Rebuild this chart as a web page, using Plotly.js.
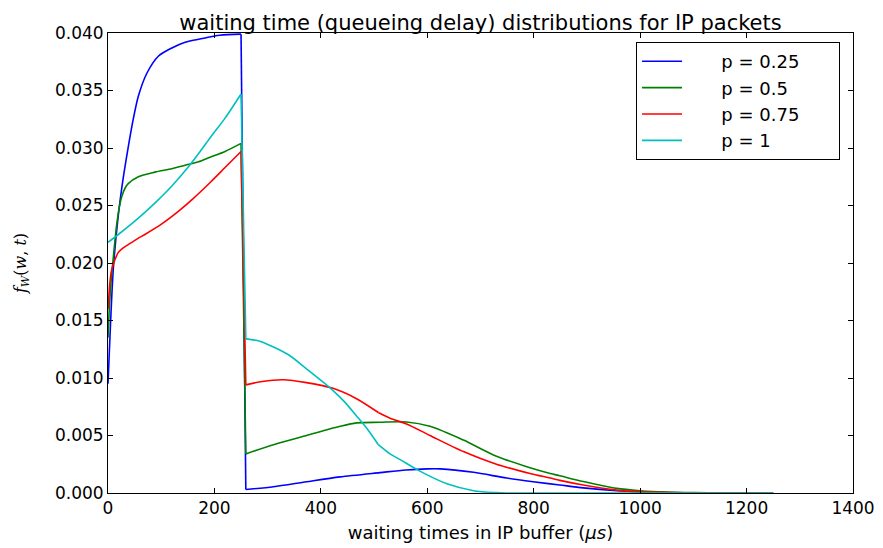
<!DOCTYPE html>
<html>
<head>
<meta charset="utf-8">
<script src="https://cdn.plot.ly/plotly-3.0.1.min.js"></script>
<style>
  html, body { margin: 0; padding: 0; background: #fff; }
  #chart { width: 883px; height: 548px; }
</style>
</head>
<body>
<div id="chart"></div>
<script>
// Series names
const seriesNames = ["p = 0.25", "p = 0.5", "p = 0.75", "p = 1"];

// p = 0.25 (blue)
const xP025 = [0, 5, 10, 19, 28, 37, 47, 57, 73, 95, 120, 145, 175, 210, 250,
               259, 311, 373, 436, 511, 560, 600, 624, 687, 749, 799, 849, 893, 956, 1000, 1050, 1100, 1250];
const yP025 = [0.0095, 0.0150, 0.0195, 0.0240, 0.0272, 0.0298, 0.0324, 0.0345, 0.0365, 0.0380, 0.0387, 0.0392, 0.0395, 0.0398, 0.0399,
               0.0003, 0.00055, 0.00098, 0.0014, 0.00177, 0.0020, 0.0021, 0.0021, 0.0018, 0.0013, 0.00098, 0.0007, 0.00045, 0.0002, 0.0001, 0.00004, 0.00001, 0.0];

// p = 0.5 (green)
const xP05 = [0, 3, 6, 10, 16, 21, 26, 32, 38, 57, 88, 120, 145, 170, 192, 220, 250,
              259, 311, 373, 436, 467, 511, 561, 605, 668, 730, 793, 831, 849, 893, 956, 1000, 1050, 1100, 1150, 1250];
const yP05 = [0.0135, 0.0165, 0.0185, 0.0205, 0.0232, 0.0248, 0.0258, 0.0265, 0.0269, 0.0275, 0.0279, 0.0282, 0.0285, 0.0288, 0.0292, 0.0297, 0.0304,
              0.0034, 0.0042, 0.0050, 0.0058, 0.0061, 0.00615, 0.00618, 0.0058, 0.0046, 0.0032, 0.0022, 0.0017, 0.0015, 0.0010, 0.0004, 0.0002, 0.00008, 0.00003, 0.00001, 0.0];

// p = 0.75 (red)
const xP075 = [0, 3, 6, 10, 15, 19, 28, 38, 55, 70, 101, 135, 160, 192, 220, 250,
               259, 290, 329, 373, 423, 467, 508, 530, 561, 605, 668, 730, 793, 831, 849, 893, 956, 1000, 1050, 1100, 1250];
const yP075 = [0.0160, 0.0180, 0.0192, 0.0199, 0.0205, 0.0209, 0.0213, 0.0216, 0.0221, 0.0225, 0.0234, 0.0246, 0.0256, 0.0270, 0.0283, 0.0297,
               0.0094, 0.0097, 0.00985, 0.0096, 0.0091, 0.0082, 0.0070, 0.0065, 0.0060, 0.0050, 0.0036, 0.0025, 0.0017, 0.0013, 0.0011, 0.0007, 0.00025, 0.0001, 0.00004, 0.00001, 0.0];

// p = 1 (cyan)
const xP1 = [0, 20, 57, 90, 120, 150, 170, 192, 220, 250,
             259, 285, 311, 340, 373, 400, 423, 445, 467, 490, 508, 530, 549, 586, 637, 687, 730, 750, 1250];
const yP1 = [0.0218, 0.0225, 0.0239, 0.0253, 0.0267, 0.0283, 0.0295, 0.0309, 0.0326, 0.0347,
             0.0134, 0.0132, 0.0127, 0.0120, 0.0108, 0.0098, 0.0089, 0.0079, 0.0067, 0.0054, 0.0042, 0.0034, 0.0029, 0.0019, 0.0008, 0.0002, 0.00003, 0.0, 0.0];

// x values where a curve has a corner (jump edges and kinks)
const cornersP025 = [250, 259];
const cornersP05 = [250, 259];
const cornersP075 = [250, 259, 508];
const cornersP1 = [250, 259, 508, 750];

const seriesX = [xP025, xP05, xP075, xP1];
const seriesY = [yP025, yP05, yP075, yP1];
const seriesCorners = [cornersP025, cornersP05, cornersP075, cornersP1];
const colors = ["#0000ff", "#008000", "#ff0000", "#00bfbf"];

const traces = [];
seriesNames.forEach((name, i) => {
  const xs = seriesX[i], ys = seriesY[i], corners = seriesCorners[i];
  // split into smooth pieces that share their corner points
  const pieces = [];
  let cur = { x: [], y: [] };
  xs.forEach((xv, k) => {
    cur.x.push(xv); cur.y.push(ys[k]);
    if (corners.includes(xv) && k > 0 && k < xs.length - 1) {
      pieces.push(cur);
      cur = { x: [xv], y: [ys[k]] };
    }
  });
  pieces.push(cur);
  pieces.forEach((pc, j) => {
    traces.push({
      type: "scatter",
      mode: "lines",
      x: pc.x,
      y: pc.y,
      name: "\u00a0\u00a0\u00a0\u00a0\u00a0\u00a0" + name + "\u00a0\u00a0\u00a0\u00a0\u00a0\u00a0",
      legendgroup: "g" + i,
      showlegend: j === 0,
      line: { color: colors[i], width: 1.6, shape: pc.x.length > 2 ? "spline" : "linear", smoothing: 0.8 }
    });
  });
});

const tickFont = { family: "DejaVu Sans", size: 17, color: "#000" };

const layout = {
  width: 883,
  height: 548,
  margin: { l: 108, r: 30, t: 33, b: 55 },
  paper_bgcolor: "#fff",
  plot_bgcolor: "#fff",
  font: { family: "DejaVu Sans", color: "#000" },
  title: {
    text: "waiting time (queueing delay) distributions for IP packets",
    font: { family: "DejaVu Sans", size: 21, color: "#000" },
    x: 0.5, xref: "paper", xanchor: "center",
    y: 1, yref: "paper", yanchor: "bottom",
    pad: { b: 3 }
  },
  xaxis: {
    range: [0, 1400],
    tick0: 0, dtick: 200,
    ticks: "inside", ticklen: 5, tickcolor: "#000", tickwidth: 1,
    showline: true, linecolor: "#000", linewidth: 1, mirror: "ticks",
    showgrid: false, zeroline: false,
    tickfont: tickFont,
    title: { text: "waiting times in IP buffer (<i>μs</i>)", font: { family: "DejaVu Sans", size: 18, color: "#000" }, standoff: 8 }
  },
  yaxis: {
    range: [0, 0.04],
    tick0: 0, dtick: 0.005, tickformat: ".3f",
    ticks: "inside", ticklen: 5, tickcolor: "#000", tickwidth: 1,
    showline: true, linecolor: "#000", linewidth: 1, mirror: "ticks",
    showgrid: false, zeroline: false,
    tickfont: tickFont,
    title: { text: "<i>f</i><sub><i>W</i></sub>(<i>w</i>, <i>t</i>)", font: { family: "DejaVu Serif", size: 16, color: "#000" }, standoff: 24 }
  },
  legend: {
    x: 0.9826, xanchor: "right",
    y: 0.9804, yanchor: "top",
    bgcolor: "#fff",
    bordercolor: "#000",
    borderwidth: 1,
    font: { family: "DejaVu Sans", size: 18, color: "#000" },
    itemwidth: 40,
    tracegroupgap: 0
  },
  showlegend: true
};

Plotly.newPlot("chart", traces, layout, { displayModeBar: false, staticPlot: true });
</script>
</body>
</html>
